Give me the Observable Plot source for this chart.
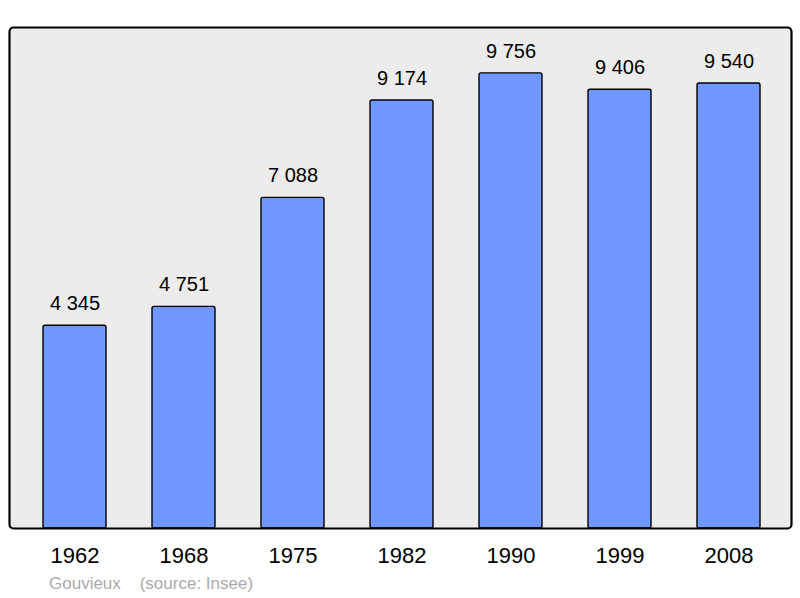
<!DOCTYPE html>
<html><head><meta charset="utf-8">
<script src="https://cdn.jsdelivr.net/npm/d3@7"></script>
<script src="https://cdn.jsdelivr.net/npm/@observablehq/plot@0.6"></script>
<style>body{margin:0;background:#fff;} svg{display:block;}</style>
</head><body><div id="chart"></div>
<script>
const years = ["1962","1968","1975","1982","1990","1999","2008"];
const population = [4345, 4751, 7088, 9174, 9756, 9406, 9540];
const caption = "Gouvieux    (source: Insee)";

const data = years.map((y, i) => ({year: y, pop: population[i]}));
const fmt = d3.formatLocale({thousands: "\u00a0", grouping: [3], decimal: ",", currency: ["", ""]}).format(",d");

const chart = Plot.plot({
  width: 800, height: 598,
  marginLeft: 10.5, marginRight: 7.5, marginTop: 27, marginBottom: 70,
  style: {fontFamily: "'Liberation Sans', Arial, sans-serif", background: "#fff"},
  x: {domain: years, paddingInner: 0.424, paddingOuter: 0.288, label: null},
  y: {domain: [0, 10740], axis: null},
  marks: [
    Plot.frame({fill: "#ececec", stroke: "none", rx: 4, insetLeft: -1.5, insetRight: 1.5}),
    Plot.barY(data, {x: "year", y: "pop", fill: "#7097fe", stroke: "#000", strokeWidth: 1.4, rx: 2}),
    Plot.text(data, {x: "year", y: "pop", text: d => fmt(d.pop), dy: -22, fontSize: 20, fill: "#000"}),
    Plot.frame({stroke: "#000", strokeWidth: 2.2, rx: 4, insetLeft: -1.5, insetRight: 1.5}),
    Plot.axisX({tickSize: 0, tickPadding: 19, fontSize: 22, fill: "#000", label: null}),
    Plot.text([caption], {frameAnchor: "bottom-left", text: d => d, dx: 38, dy: 60, fontSize: 17, fill: "#aaaaaa", textAnchor: "start", style: "white-space:pre"})
  ]
});
document.getElementById("chart").appendChild(chart);
</script></body></html>
